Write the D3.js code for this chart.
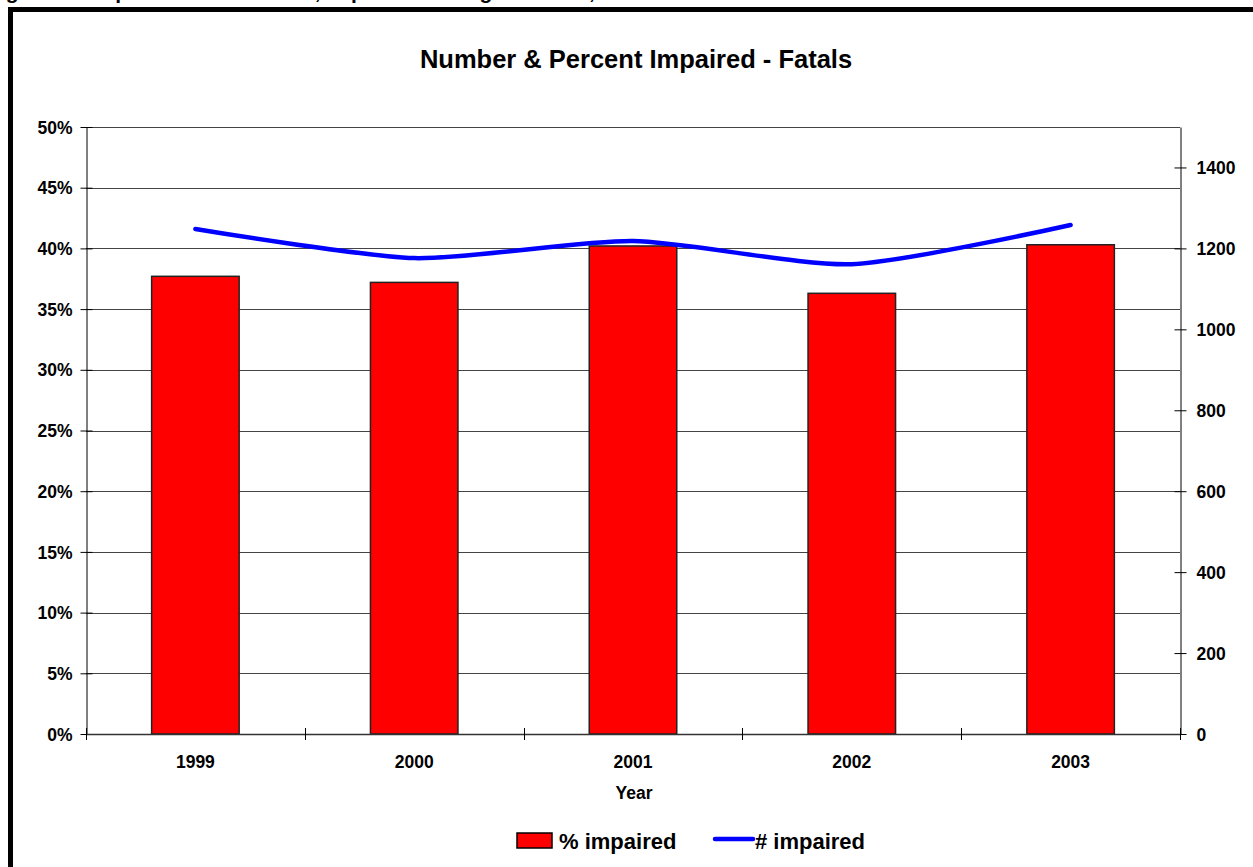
<!DOCTYPE html>
<html>
<head>
<meta charset="utf-8">
<script src="https://cdn.jsdelivr.net/npm/d3@7"></script>
<style>
  body { margin: 0; background: #fff; overflow: hidden; }
  text { font-family: "Liberation Sans", Arial, sans-serif; font-weight: bold; fill: #000; }
</style>
</head>
<body>
<div id="chart"></div>
<script>
// chart data
const years = ["1999", "2000", "2001", "2002", "2003"];
const pctImpaired = [37.7, 37.2, 40.2, 36.3, 40.3];
const numImpaired = [1248, 1176, 1218, 1161, 1258];
const pctTicks = [0, 5, 10, 15, 20, 25, 30, 35, 40, 45, 50];
const numTicks = [0, 200, 400, 600, 800, 1000, 1200, 1400];

const W = 1253, H = 867;
const svg = d3.select("#chart").append("svg")
    .attr("width", W)
    .attr("height", H);

// caption, cut off at the top of the page like in the scan
svg.append("text")
    .attr("x", -13)
    .attr("y", -1)
    .attr("font-size", 21)
    .text("Figure 4. Proportion and Number, Impaired Driving Fatalities, 1999 to 2003");

// outer frame
svg.append("rect")
    .attr("x", 10.5).attr("y", 9.5)
    .attr("width", W + 20).attr("height", H + 20)
    .attr("fill", "none")
    .attr("stroke", "#000")
    .attr("stroke-width", 5);

const plot = { left: 86, right: 1180, top: 127, bottom: 734 };

const x = d3.scaleBand()
    .domain(years)
    .range([plot.left, plot.right])
    .padding(0);

const yPct = d3.scaleLinear().domain([0, 50]).range([plot.bottom, plot.top]);
const yNum = d3.scaleLinear().domain([0, 1500]).range([plot.bottom, plot.top]);

// title
svg.append("text")
    .attr("x", 636).attr("y", 68)
    .attr("text-anchor", "middle")
    .attr("font-size", 25.5)
    .text("Number & Percent Impaired - Fatals");

// gridlines
svg.append("g").selectAll("line")
    .data(pctTicks.filter(d => d > 0))
    .enter().append("line")
    .attr("x1", plot.left).attr("x2", plot.right)
    .attr("y1", d => Math.round(yPct(d)) + 0.5)
    .attr("y2", d => Math.round(yPct(d)) + 0.5)
    .attr("stroke", "#444")
    .attr("stroke-width", 1);

// bars
const barW = x.bandwidth() * 0.4;
svg.append("g").selectAll("rect")
    .data(years)
    .enter().append("rect")
    .attr("x", (d, i) => x(d) + (x.bandwidth() - barW) / 2)
    .attr("y", (d, i) => yPct(pctImpaired[i]))
    .attr("width", barW)
    .attr("height", (d, i) => plot.bottom - yPct(pctImpaired[i]))
    .attr("fill", "#ff0000")
    .attr("stroke", "#222")
    .attr("stroke-width", 1.5);

// line
const line = d3.line()
    .x((d, i) => x(years[i]) + x.bandwidth() / 2)
    .y(d => yNum(d))
    .curve(d3.curveCardinal.tension(0.3));

svg.append("path")
    .datum(numImpaired)
    .attr("d", line)
    .attr("fill", "none")
    .attr("stroke", "#0000ff")
    .attr("stroke-width", 4.5)
    .attr("stroke-linecap", "round");

// left axis
const leftAxis = d3.axisLeft(yPct)
    .tickValues(pctTicks)
    .tickFormat(d => d + "%")
    .tickSizeInner(6)
    .tickSizeOuter(0)
    .tickPadding(8);
const gl = svg.append("g")
    .attr("transform", `translate(${plot.left + 0.5},0)`)
    .call(leftAxis);
gl.selectAll(".tick line").attr("x2", -6).attr("x1", 6).attr("stroke", "#000");
gl.select(".domain").attr("stroke", "#000");
gl.selectAll("text").attr("font-size", 17.5).attr("font-family", null).attr("dy", "0.35em");

// right axis
const rightAxis = d3.axisRight(yNum)
    .tickValues(numTicks)
    .tickFormat(d3.format("d"))
    .tickSizeInner(6)
    .tickSizeOuter(0)
    .tickPadding(10);
const gr = svg.append("g")
    .attr("transform", `translate(${plot.right + 0.5},0)`)
    .call(rightAxis);
gr.selectAll(".tick line").attr("x1", -6).attr("x2", 6).attr("stroke", "#000");
gr.select(".domain").attr("stroke", "#000");
gr.selectAll("text").attr("font-size", 17.5).attr("font-family", null).attr("dy", "0.35em");

// bottom axis: ticks at band boundaries
const gb = svg.append("g");
gb.append("line")
    .attr("x1", plot.left).attr("x2", plot.right)
    .attr("y1", plot.bottom + 0.5).attr("y2", plot.bottom + 0.5)
    .attr("stroke", "#333")
    .attr("stroke-width", 1.5);
const bounds = years.map(d => x(d)).concat([plot.right]);
gb.selectAll("line.tk")
    .data(bounds)
    .enter().append("line")
    .attr("class", "tk")
    .attr("x1", d => Math.round(d) + 0.5).attr("x2", d => Math.round(d) + 0.5)
    .attr("y1", plot.bottom - 6).attr("y2", plot.bottom + 6)
    .attr("stroke", "#000");
gb.selectAll("text")
    .data(years)
    .enter().append("text")
    .attr("x", d => x(d) + x.bandwidth() / 2)
    .attr("y", plot.bottom + 34)
    .attr("text-anchor", "middle")
    .attr("font-size", 17.5)
    .text(d => d);

svg.append("text")
    .attr("x", 634).attr("y", 799)
    .attr("text-anchor", "middle")
    .attr("font-size", 17.5)
    .text("Year");

// legend
const lg = svg.append("g");
lg.append("rect")
    .attr("x", 517).attr("y", 833)
    .attr("width", 35).attr("height", 15)
    .attr("fill", "#ff0000")
    .attr("stroke", "#000")
    .attr("stroke-width", 1.5);
lg.append("text")
    .attr("x", 559).attr("y", 849)
    .attr("font-size", 22)
    .text("% impaired");
lg.append("line")
    .attr("x1", 715).attr("x2", 753)
    .attr("y1", 839).attr("y2", 839)
    .attr("stroke", "#0000ff")
    .attr("stroke-width", 4.5)
    .attr("stroke-linecap", "round");
lg.append("text")
    .attr("x", 755).attr("y", 849)
    .attr("font-size", 22)
    .text("# impaired");
</script>
</body>
</html>
